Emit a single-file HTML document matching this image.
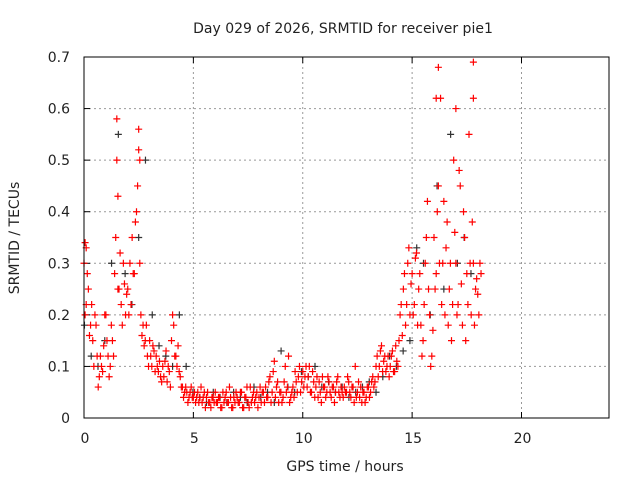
<!DOCTYPE html>
<html><head><meta charset="utf-8"><style>
body{margin:0;background:#fff;}
svg text{font-family:"DejaVu Sans","Liberation Sans",sans-serif;font-size:14px;fill:#222;}
</style></head><body>
<svg id="chart" width="640" height="480" viewBox="0 0 640 480" xmlns="http://www.w3.org/2000/svg">
<text x="343" y="33" text-anchor="middle">Day 029 of 2026, SRMTID for receiver pie1</text>
<text x="345" y="471" text-anchor="middle">GPS time / hours</text>
<text transform="translate(19,238) rotate(-90)" text-anchor="middle">SRMTID / TECUs</text>
<g id="grid"></g><g id="marks"></g>
<rect x="84" y="57" width="525" height="361" fill="none" stroke="#000" stroke-width="1"/>
</svg>
<script>
const xTicks=[0,5,10,15,20];
const yTicks=[0,0.1,0.2,0.3,0.4,0.5,0.6,0.7];
const yTickLabels=["0","0.1","0.2","0.3","0.4","0.5","0.6","0.7"];
const redA=[0.30,0.22,0.25,0.18,0.15,0.2,0.12,0.08,0.1,0.14,
0.2,0.12,0.1,0.15,0.28,0.5,0.25,0.22,0.3,0.2,
0.25,0.3,0.35,0.28,0.4,0.52,0.2,0.18,0.15,0.12,
0.15,0.1,0.13,0.12,0.09,0.08,0.1,0.11,0.07,0.09,
0.15,0.18,0.12,0.14,0.08,0.06,0.05,0.05,0.04,0.06,
0.04,0.03,0.05,0.04,0.03,0.05,0.04,0.03,0.02,0.04,
0.05,0.03,0.04,0.02,0.03,0.05,0.03,0.04,0.02,0.03,
0.04,0.03,0.05,0.02,0.04,0.03,0.06,0.04,0.03,0.05,
0.04,0.03,0.05,0.06,0.04,0.08,0.05,0.11,0.06,0.03,
0.05,0.04,0.1,0.06,0.03,0.05,0.04,0.07,0.08,0.05,
0.09,0.08,0.06,0.1,0.05,0.07,0.06,0.04,0.05,0.08,
0.06,0.05,0.07,0.04,0.06,0.05,0.08,0.04,0.05,0.06,
0.05,0.07,0.04,0.06,0.1,0.05,0.04,0.03,0.05,0.04,
0.06,0.05,0.08,0.07,0.12,0.1,0.14,0.11,0.09,0.12,
0.1,0.13,0.09,0.11,0.15,0.22,0.25,0.18,0.3,0.2,
0.28,0.22,0.32,0.25,0.18,0.15,0.3,0.42,0.2,0.12,
0.35,0.28,0.45,0.62,0.3,0.2,0.38,0.25,0.15,0.5,
0.3,0.22,0.45,0.18,0.35,0.28,0.55,0.2,0.3,0.25,
0.24,0.3];
const redB=[0.2,0.28,0.16,0.22,0.1,0.18,0.06,0.12,0.09,0.2,
0.15,0.08,0.18,0.12,0.35,0.25,0.32,0.18,0.26,0.24,
0.2,0.22,0.28,0.38,0.45,0.3,0.16,0.14,0.18,0.1,
0.12,0.14,0.09,0.1,0.11,0.07,0.08,0.13,0.1,0.06,
0.2,0.12,0.1,0.09,0.06,0.04,0.06,0.03,0.05,0.04,
0.05,0.04,0.03,0.06,0.04,0.02,0.05,0.03,0.04,0.03,
0.03,0.04,0.02,0.05,0.04,0.03,0.06,0.02,0.04,0.05,
0.03,0.05,0.02,0.04,0.06,0.02,0.03,0.05,0.04,0.02,
0.06,0.05,0.03,0.04,0.07,0.03,0.09,0.04,0.07,0.05,
0.03,0.07,0.05,0.12,0.04,0.06,0.09,0.05,0.1,0.07,
0.06,0.1,0.08,0.05,0.09,0.04,0.08,0.07,0.03,0.06,
0.04,0.08,0.05,0.06,0.03,0.07,0.05,0.06,0.04,0.05,
0.08,0.05,0.06,0.03,0.04,0.07,0.06,0.05,0.03,0.06,
0.04,0.07,0.06,0.1,0.08,0.13,0.09,0.12,0.1,0.08,
0.12,0.09,0.14,0.1,0.2,0.16,0.28,0.22,0.33,0.26,
0.2,0.31,0.18,0.28,0.12,0.22,0.35,0.25,0.1,0.17,
0.25,0.4,0.3,0.22,0.42,0.33,0.18,0.3,0.22,0.36,
0.2,0.48,0.26,0.4,0.15,0.22,0.3,0.38,0.18,0.27,
0.2,0.28];
const grayVals=[0.18,0.12,0.1,0.15,0.3,0.55,0.28,0.22,0.35,0.5,0.2,0.14,0.12,0.1,0.2,0.1,0.05,0.04,0.03,0.05,0.04,0.03,0.05,0.04,0.03,0.06,0.04,0.05,0.03,0.13,0.06,0.05,0.09,0.08,0.1,0.06,0.07,0.05,0.06,0.04,0.05,0.06,0.07,0.05,0.08,0.12,0.1,0.13,0.15,0.33,0.3,0.2,0.45,0.25,0.55,0.3,0.35,0.28];
const extraT=[1.5,1.55,2.5,2.55,16.2,16.1,17.8,17.8,0.05,0.1,17.0];
const extraV=[0.58,0.43,0.56,0.5,0.68,0.62,0.69,0.62,0.34,0.33,0.6];
const X0=84,X1=609,Y0=418,Y1=57;
const xs=t=>X0+(t/24)*(X1-X0);
const ys=v=>Y0-(v/0.7)*(Y0-Y1);
const NS="http://www.w3.org/2000/svg";
const svg=document.getElementById('chart');
const grid=document.getElementById('grid'), marks=document.getElementById('marks');
function mk(tag,attrs,parent){const e=document.createElementNS(NS,tag);for(const k in attrs)e.setAttribute(k,attrs[k]);parent.appendChild(e);return e;}
xTicks.forEach(t=>{
 const x=xs(t);
 if(t>0){const g=mk('line',{x1:x,x2:x,y1:Y1,y2:Y0,stroke:'#999','stroke-dasharray':'2,3'},grid);
 
 }
 const tk=mk('line',{x1:x,x2:x,y1:Y0,y2:Y0-6,stroke:'#000'},grid);
 
 
 const tk2=mk('line',{x1:x,x2:x,y1:Y1,y2:Y1+6,stroke:'#000'},grid);
 
 
 const l=mk('text',{x:x+1,y:443,'text-anchor':'middle'},svg);l.textContent=String(t);
 
 
});
yTicks.forEach((v,i)=>{
 const y=ys(v);
 if(v>0&&v<0.7){const g=mk('line',{x1:X0,x2:X1,y1:y,y2:y,stroke:'#999','stroke-dasharray':'2,3'},grid);
 
 }
 const tk=mk('line',{x1:X0,x2:X0+6,y1:y,y2:y,stroke:'#000'},grid);
 
 
 const l=mk('text',{x:70,y:y+5,'text-anchor':'end'},svg);l.textContent=yTickLabels[i];
 
 
});
function plus(t,v,color,name){
 const x=xs(t),y=ys(v);
 const p=mk('path',{d:`M${x-3.5},${y}h7M${x},${y-3.5}v7`,stroke:color,'stroke-width':1.2,fill:'none'},marks);
 
 
}
grayVals.forEach((v,i)=>plus(i*0.31+0.02,v,'#333','gray-point'));
redA.forEach((v,i)=>plus(i*0.1,v,'#f00','red-point'));
redB.forEach((v,i)=>plus(i*0.1+0.05,v,'#f00','red-point'));
extraT.forEach((t,i)=>plus(t,extraV[i],'#f00','red-point'));
</script>
</body></html>
